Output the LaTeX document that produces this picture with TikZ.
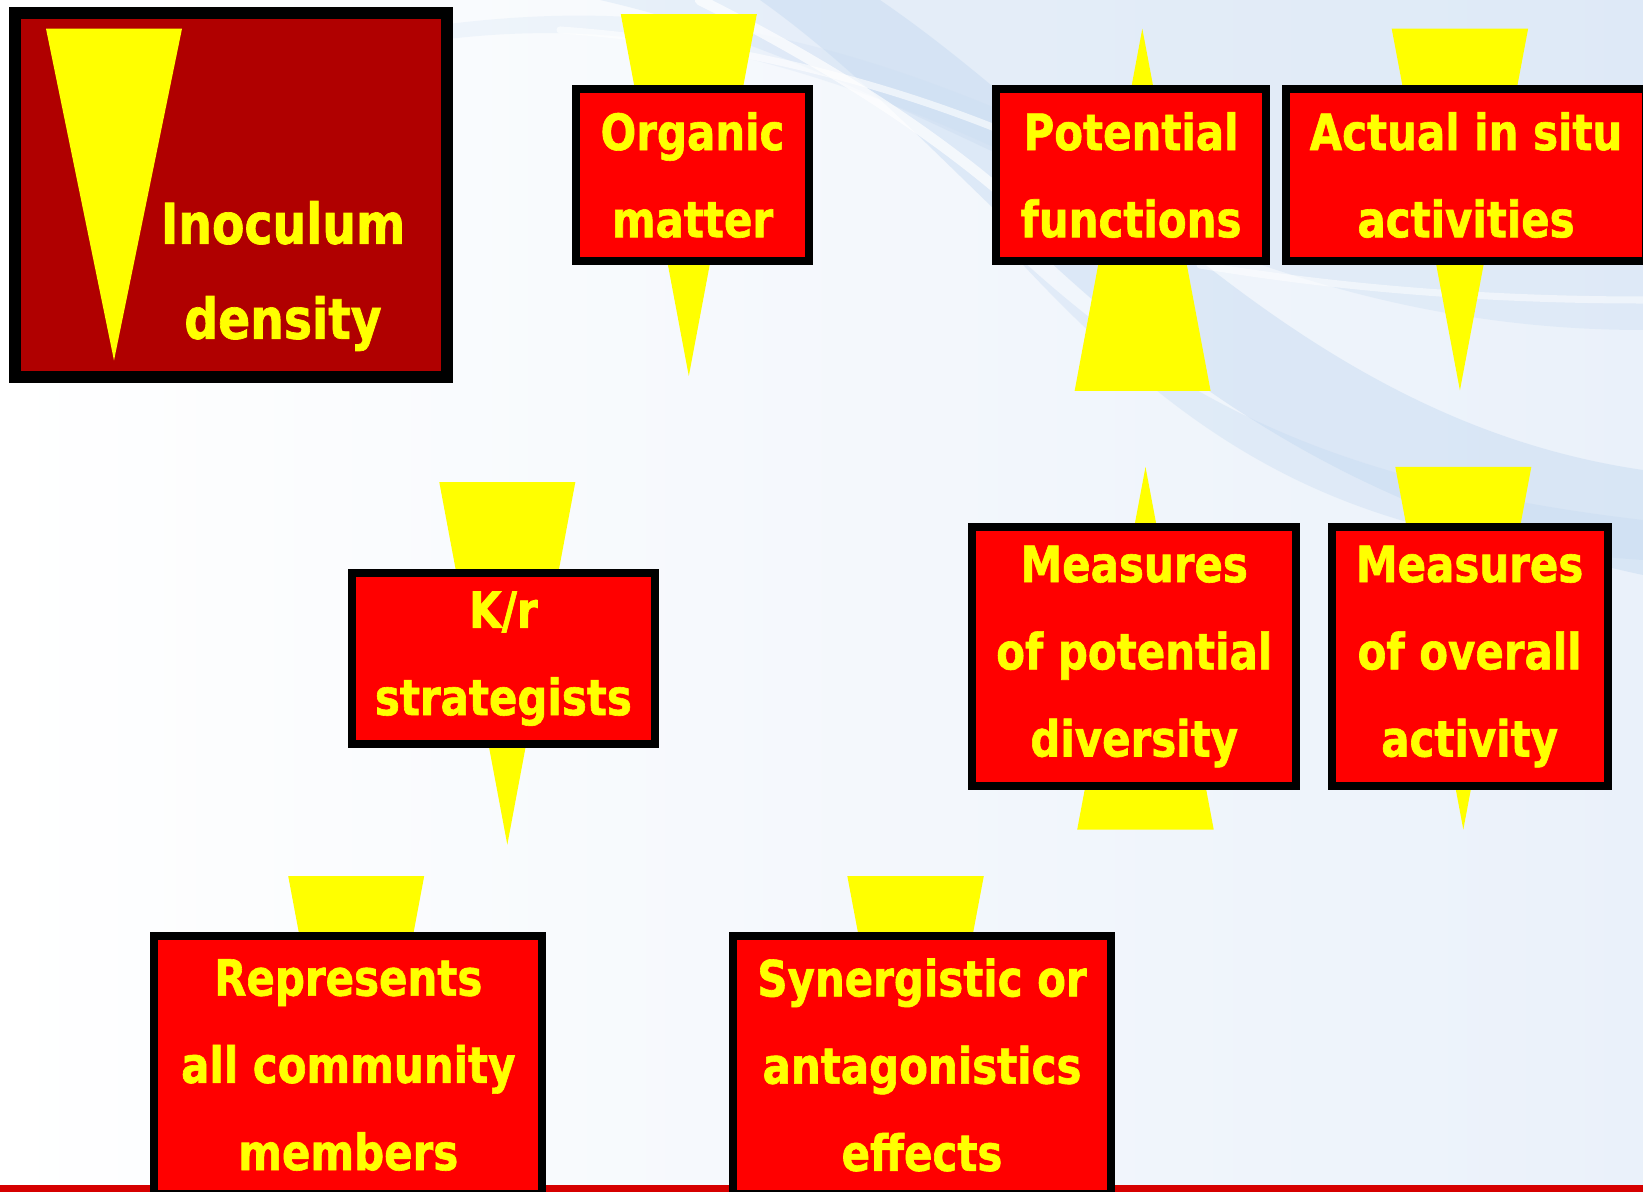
\documentclass[tikz,border=0pt]{standalone}
\usepackage{fontspec}
\newfontfamily\boxfont{DejaVu Sans}[FakeStretch=0.84, FakeBold=1.2]

\definecolor{boxred}{HTML}{FF0000}
\definecolor{darkbox}{HTML}{B00000}
\definecolor{signal}{HTML}{FFFF00}
\definecolor{stripred}{HTML}{D60000}
\definecolor{skyA}{HTML}{EAF1FA}
\definecolor{skyB}{HTML}{C4D9F1}

\tikzset{
  box/.style={draw=black, fill=boxred, line width=0.08cm, inner sep=0pt,
    align=center, text=signal,
    font={\boxfont\bfseries\fontsize{14.2}{24.8}\selectfont}},
  bigbox/.style={draw=black, fill=darkbox, line width=0.12cm, inner sep=0pt},
  bigtext/.style={inner sep=0pt, align=center, text=signal,
    font={\boxfont\bfseries\fontsize{16}{27}\selectfont}},
  wedge/.style={fill=signal, draw=none},
  swoosh/.style={fill=skyB, draw=none},
  streak/.style={draw=white, line cap=round},
}

\begin{document}
\begin{tikzpicture}[x=0.01cm, y=-0.01cm]
  \useasboundingbox (0,0) rectangle (1643,1192);
  \clip (0,0) rectangle (1643,1192);

  % backdrop with soft blue sweeps
  \fill[left color=white, right color=skyA] (0,0) rectangle (1643,1192);
  \fill[swoosh, opacity=0.30] (600,0) .. controls (950,80) and (1200,330) .. (1643,330) -- (1643,0) -- cycle;
  \fill[swoosh, opacity=0.45] (760,0) .. controls (1000,170) and (1150,470) .. (1643,575)
        -- (1643,470) .. controls (1300,420) and (1100,150) .. (880,0) -- cycle;
  \fill[swoosh, opacity=0.35] (1000,240) .. controls (1150,380) and (1300,480) .. (1643,520)
        -- (1643,560) .. controls (1350,540) and (1200,460) .. (1000,240) -- cycle;
  \fill[swoosh, opacity=0.20] (440,40) .. controls (600,20) and (760,40) .. (1000,150)
        -- (1000,110) .. controls (760,10) and (600,5) .. (440,25) -- cycle;
  \draw[streak, line width=3pt, opacity=0.7] (700,0) .. controls (820,60) and (930,130) .. (1010,200);
  \draw[streak, line width=2pt, opacity=0.6] (560,30) .. controls (700,40) and (850,70) .. (1000,130);
  \draw[streak, line width=2pt, opacity=0.5] (1200,265) .. controls (1350,290) and (1500,300) .. (1643,300);

  % bottom rule
  \fill[stripred] (0,1185) rectangle (1643,1200);

  % wedges behind the boxes
  \fill[wedge] (620.8,14.2) -- (756.8,14.2) -- (688.8,376) -- cycle;
  \fill[wedge] (439.3,482.2) -- (575.3,482.2) -- (507.3,844.6) -- cycle;
  \fill[wedge] (288.2,876) -- (424.2,876) -- (356.2,1238) -- cycle;
  \fill[wedge] (847.3,876) -- (983.8,876) -- (915.5,1238) -- cycle;
  \fill[wedge] (1142.3,28.7) -- (1210.6,391) -- (1074.6,391) -- cycle;
  \fill[wedge] (1391.7,28.7) -- (1528.1,28.7) -- (1459.9,390.4) -- cycle;
  \fill[wedge] (1145.5,467) -- (1213.7,829.5) -- (1077.2,829.5) -- cycle;
  \fill[wedge] (1395.3,467) -- (1531.3,467) -- (1463.3,829.5) -- cycle;

  % boxes
  \node[bigbox, minimum width=4.31cm, minimum height=3.638cm] (inoculum) at (231,194.8) {};
  \node[box, minimum width=2.336cm, minimum height=1.718cm] (organic) at (692.5,175) {Organic\\matter};
  \node[box, minimum width=2.707cm, minimum height=1.718cm] (potential) at (1131,175) {Potential\\functions};
  \node[box, minimum width=3.6cm, minimum height=1.718cm] (actual) at (1466,175) {Actual in situ\\activities};
  \node[box, minimum width=3.032cm, minimum height=1.714cm] (kr) at (503.4,658.7) {K/r\\strategists};
  \node[box, minimum width=3.243cm, minimum height=2.58cm] (measpot) at (1134.2,656.5) {Measures\\of potential\\diversity};
  \node[box, minimum width=2.76cm, minimum height=2.58cm] (measact) at (1469.6,656.5) {Measures\\of overall\\activity};
  \node[box, minimum width=3.875cm, minimum height=2.578cm] (represents) at (348.3,1065) {Represents\\all community\\members};
  \node[box, minimum width=3.774cm, minimum height=2.578cm] (synergy) at (922,1065) {Synergistic or\\antagonistics\\effects};

  % density wedge and label inside the dark box
  \fill[wedge] (46,28.7) -- (182,28.7) -- (114,360.5) -- cycle;
  \node[bigtext] (inoctext) at (283,276) {Inoculum\\density};
\end{tikzpicture}
\end{document}
